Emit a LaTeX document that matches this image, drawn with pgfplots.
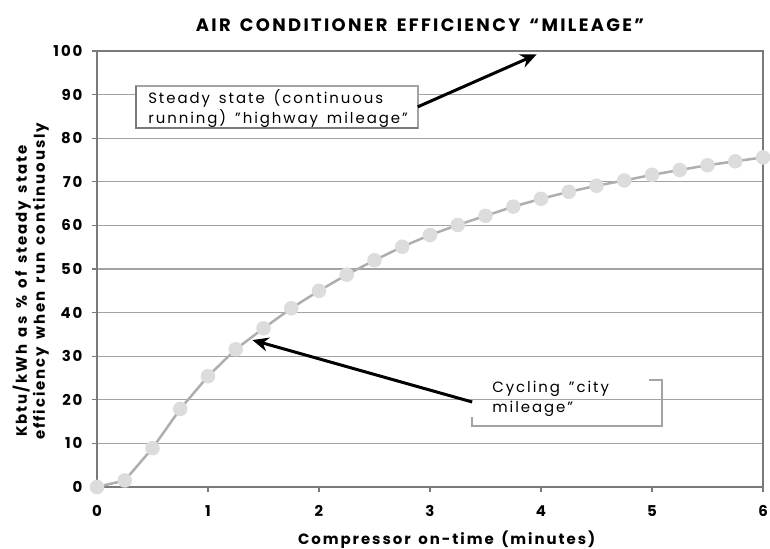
\documentclass[border=0pt]{standalone}
\usepackage{fontspec}
\setmainfont{Poppins}[LetterSpace=13, WordSpace=1.5]
\usepackage{pgfplots}
\pgfplotsset{compat=1.18}
\usetikzlibrary{arrows.meta}
\definecolor{gridc}{HTML}{A3A3A3}
\definecolor{axisc}{HTML}{7A7A7A}
\definecolor{linec}{HTML}{AEAEAE}
\definecolor{markc}{HTML}{DCDCDC}
\newcommand{\dq}{\char"22\relax}
\begin{document}
\begin{tikzpicture}
\begin{axis}[
    scale only axis,
    width=666bp, height=436bp,
    xmin=0, xmax=6, ymin=0, ymax=100,
    xtick={0,1,2,3,4,5,6},
    ytick={0,10,20,30,40,50,60,70,80,90,100},
    ymajorgrids,
    grid style={gridc, line width=1.2bp},
    axis line style={axisc, line width=1.4bp},
    tick style={axisc, line width=1.2bp},
    tick align=outside, tick pos=left,
    major tick length=5bp,
    /pgf/number format/assume math mode=true,
    ticklabel style={font=\fontsize{15}{17}\selectfont\bfseries},
    xticklabel style={yshift=-10bp},
    yticklabel style={xshift=-6bp},
    clip=false,
]
% efficiency curve, one point every quarter minute
\addplot[linec, line width=2.5bp, mark=*, mark size=6bp,
         mark options={markc, draw=markc}] coordinates {
    (0,0) (0.25,1.5) (0.5,8.9) (0.75,17.9) (1,25.4) (1.25,31.6)
    (1.5,36.4) (1.75,41) (2,45) (2.25,48.7) (2.5,52) (2.75,55.1)
    (3,57.8) (3.25,60.1) (3.5,62.2) (3.75,64.3) (4,66.1) (4.25,67.7)
    (4.5,69.1) (4.75,70.3) (5,71.6) (5.25,72.7) (5.5,73.8) (5.75,74.7)
    (6,75.6)
};
% steady state callout
\draw[gridc, line width=1.5bp, fill=white] (axis cs:0.35,82.3) rectangle (axis cs:2.89,92);
\draw[axisc, line width=1.5bp] (axis cs:0.35,92) -- (axis cs:0.35,82.3) -- (axis cs:2.89,82.3);
\node[anchor=north west, align=left, inner sep=0pt, font=\fontsize{15}{20}\selectfont]
    at (axis cs:0.46,91.2) {Steady state (continuous\\running) \dq highway mileage\dq};
\draw[black, line width=3bp, -{Stealth[length=16bp, width=14bp]}]
    (axis cs:2.89,87.2) -- (axis cs:3.96,99.2);
% cycling callout
\draw[gridc, line width=1.5bp] (axis cs:3.38,16) -- (axis cs:3.38,14) -- (axis cs:5.09,14)
    -- (axis cs:5.09,24.5) -- (axis cs:4.97,24.5);
\node[anchor=north west, align=left, inner sep=0pt, font=\fontsize{15}{20}\selectfont]
    at (axis cs:3.56,24.3) {Cycling \dq city\\mileage\dq};
\draw[black, line width=3bp, -{Stealth[length=16bp, width=14bp]}]
    (axis cs:3.38,19.5) -- (axis cs:1.40,33.7);
% title and axis labels
\node[anchor=base, font=\fontsize{18}{20}\selectfont\bfseries]
    at (axis cs:2.91,100) [yshift=19bp] {AIR CONDITIONER EFFICIENCY “MILEAGE\dq};
\node[anchor=base, font=\fontsize{15}{17}\selectfont\bfseries]
    at (axis cs:3.15,0) [yshift=-57bp] {Compressor on-time (minutes)};
\node[xshift=-70bp, yshift=50bp, rotate=90, anchor=base west, inner sep=0pt,
      font=\fontsize{15}{17}\selectfont\bfseries]
    at (rel axis cs:0,0) {Kbtu/kWh as \% of steady state};
\node[xshift=-52bp, yshift=47bp, rotate=90, anchor=base west, inner sep=0pt,
      font=\fontsize{15}{17}\selectfont\bfseries]
    at (rel axis cs:0,0) {efficiency when run continuously};
\end{axis}
\pgfresetboundingbox
\path[use as bounding box] ([shift={(-97bp,-61bp)}]current axis.south west)
    rectangle ([shift={(7bp,51bp)}]current axis.north east);
\end{tikzpicture}
\end{document}
